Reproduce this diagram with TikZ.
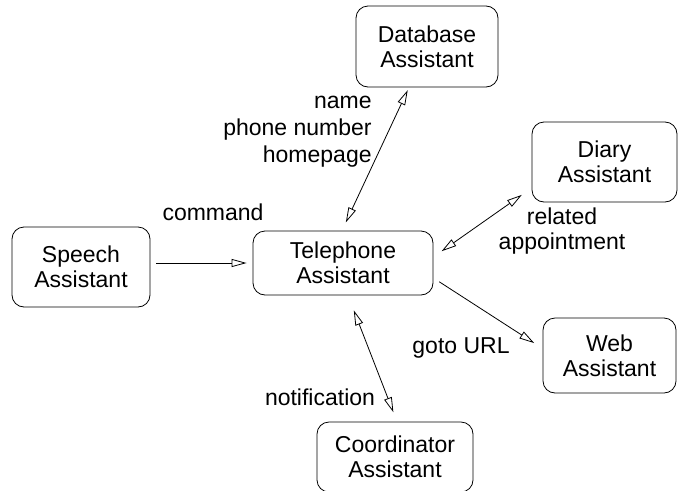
\documentclass[tikz,border=0pt]{standalone}
\usepackage{fontspec}
\setmainfont{Liberation Sans}
\usetikzlibrary{arrows.meta}

\tikzset{
  assistant/.style={draw,rounded corners=12pt,align=center},
  msgtext/.style={align=center}
}

\begin{document}
\begin{tikzpicture}[x=1pt,y=-1pt,line width=0.8pt,
  >={Triangle[open,length=15pt,width=8pt]},
  every node/.style={inner sep=0pt,font=\fontsize{23}{25}\selectfont}]
 \useasboundingbox (0,0) rectangle (679,490);
 % the assistants
 \node[assistant,minimum width=180pt,minimum height=64pt] (phone) at (343,263) {Telephone\\Assistant};
 \node[assistant,minimum width=142pt,minimum height=81pt] (database) at (427,46.5) {Database\\Assistant};
 \node[assistant,minimum width=145pt,minimum height=80pt] (diary) at (604.5,162) {Diary\\Assistant};
 \node[assistant,minimum width=138pt,minimum height=80pt] (speech) at (81,267) {Speech\\Assistant};
 \node[assistant,minimum width=133pt,minimum height=75pt] (web) at (609.5,355.5) {Web\\Assistant};
 \node[assistant,minimum width=156pt,minimum height=70pt] (coord) at (395,457) {Coordinator\\Assistant};
 % messages between them
 \draw[->,shorten <=6pt,shorten >=6pt] (speech.east |- phone.west) -- (phone.west);
 \draw[<->,shorten <=9pt,shorten >=3pt] ([xshift=-1pt]phone.north) -- ([xshift=-18pt]database.south);
 \draw[<->,shorten <=10pt,shorten >=12pt] ([yshift=6pt]phone.east) -- ([yshift=-26pt]diary.west);
 \draw[->,shorten <=7pt,shorten >=10pt] ([yshift=-15pt]phone.east) -- ([yshift=7pt]web.west);
 \draw[<->,shorten <=16pt,shorten >=10pt] ([xshift=5pt]phone.south) -- ([xshift=2pt]coord.north);
 % labels
 \node[align=right,anchor=east,font=\fontsize{23}{27}\selectfont] (dblabel) at (372,132) {name\\phone number\\homepage};
 \node (cmdlabel) at (213,212) {command};
 \node[msgtext] (diarylabel) at (562,231) {related\\appointment};
 \node (urllabel) at (461,348) {goto URL};
 \node (notelabel) at (320,397) {notification};
\end{tikzpicture}
\end{document}
